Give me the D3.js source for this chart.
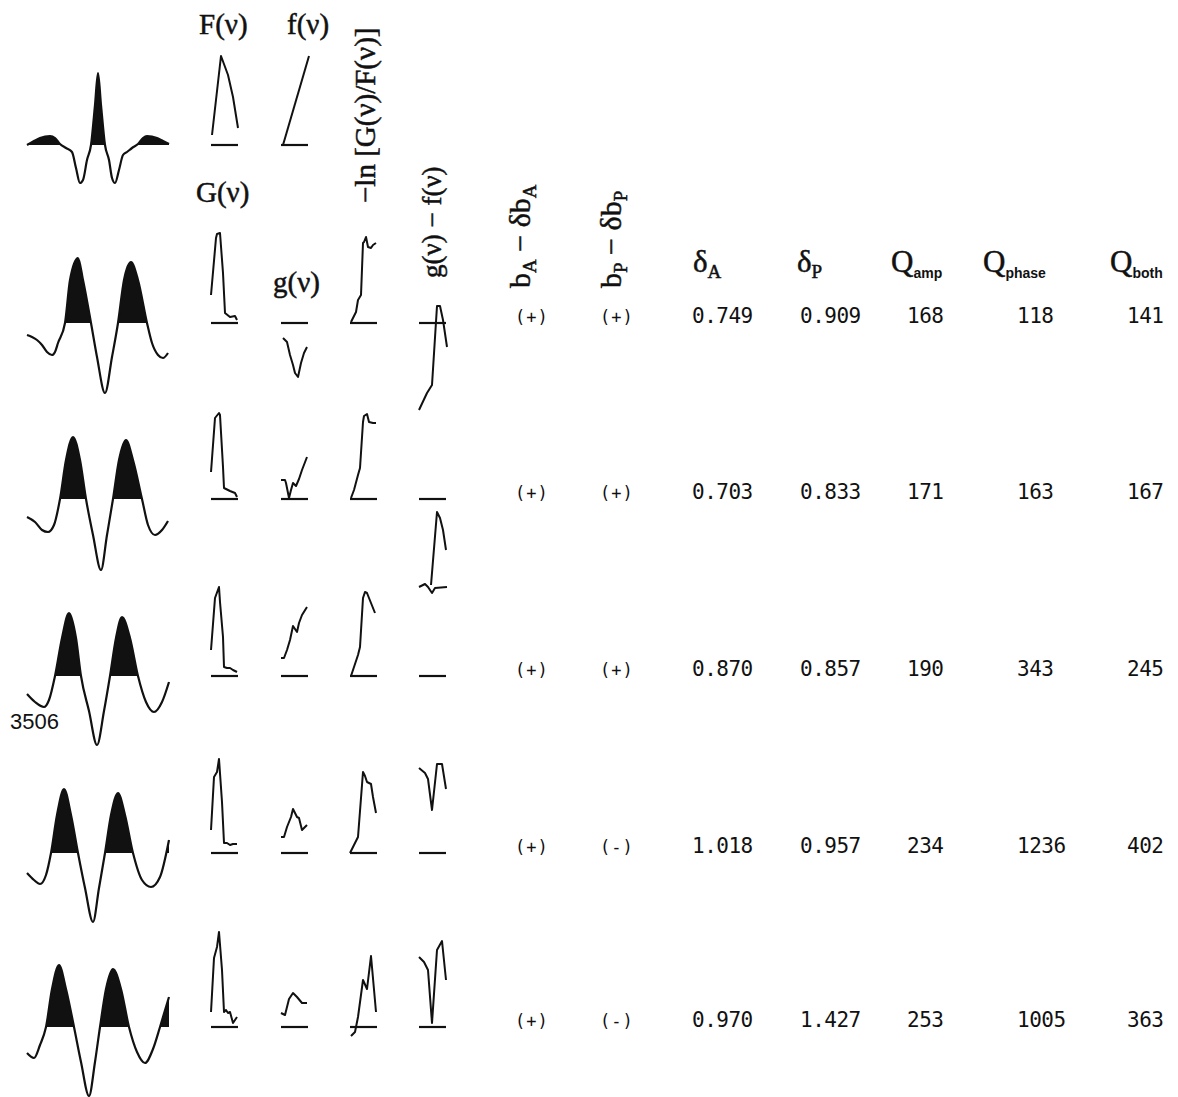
<!DOCTYPE html>
<html>
<head>
<meta charset="utf-8">
<script src="https://cdn.jsdelivr.net/npm/d3@7"></script>
<style>
  body { margin: 0; background: #fff; }
  svg { display: block; }
  .serif { font-family: "Liberation Serif", "DejaVu Serif", serif; stroke: #111; stroke-width: 0.5; }
  .mono { font-family: "DejaVu Sans Mono", "Liberation Mono", monospace; font-feature-settings: "zero"; }
</style>
</head>
<body>
<svg id="fig" width="1178" height="1097"></svg>
<script>
// wavelets: [time ms, amplitude], row 0 is the source wavelet, rows 1-5 are the traces
const wavelet0 = [[0,0],[7,4],[13,7],[23,9],[28,7],[33,1],[39,-3],[45,-7],[49,-23],[53,-38],[56,-35],[60,-15],[64,0],[68,40],[71,72],[74,40],[78,0],[82,-15],[85,-33],[88,-38],[92,-25],[96,-10],[100,-7],[105,-3],[111,1],[116,7],[120,9],[130,7],[136,4],[142,1]];
const wavelet1 = [[0,-12],[5,-14],[10,-17],[15,-22],[20,-29],[25,-32],[28,-29],[31,-20],[38,0],[43,43],[51,65],[56,43],[64,0],[70,-34],[78,-70],[85,-34],[91,0],[97,43],[104,61],[111,43],[120,0],[125,-20],[131,-32],[136,-35],[141,-30]];
const wavelet2 = [[0,-18],[8,-23],[15,-31],[21,-33],[27,-26],[33,0],[39,39],[46,62],[53,39],[59,0],[66,-36],[74,-71],[80,-36],[86,0],[92,39],[99,59],[106,39],[115,0],[121,-26],[128,-36],[135,-31],[141,-22]];
const wavelet3 = [[0,-18],[8,-26],[17,-31],[22,-24],[28,0],[35,38],[42,63],[49,38],[54,0],[62,-35],[70,-69],[77,-35],[83,0],[89,38],[95,59],[103,38],[111,0],[119,-26],[127,-36],[135,-26],[142,-6]];
const wavelet4 = [[0,-20],[7,-27],[13,-31],[19,-22],[24,0],[30,38],[37,64],[44,38],[51,0],[58,-35],[66,-69],[72,-35],[78,0],[84,38],[91,60],[98,38],[106,0],[115,-27],[124,-34],[133,-24],[142,13]];
const wavelet5 = [[0,-26],[7,-31],[13,-18],[19,0],[25,38],[32,62],[39,38],[47,0],[54,-35],[62,-69],[68,-35],[73,0],[79,38],[86,58],[94,38],[102,0],[110,-25],[118,-36],[126,-22],[133,0],[142,30]];
const wavelets = [wavelet0, wavelet1, wavelet2, wavelet3, wavelet4, wavelet5];

// spectra: [frequency Hz, value]; F(v) then G(v) per trace
const ampSpectra = [
  [[2,10],[20,89],[34,70],[44,48],[54,17]],
  [[0,28],[10,85],[12,89],[18,90],[24,50],[28,10],[38,6],[48,7],[52,3]],
  [[0,27],[8,81],[16,86],[18,84],[24,32],[26,11],[38,8],[48,6],[52,2]],
  [[0,26],[8,78],[16,89],[18,74],[24,39],[26,9],[32,8],[38,8],[44,6],[52,4]],
  [[0,23],[6,76],[12,81],[16,94],[22,51],[26,10],[32,10],[38,8],[44,9],[52,9]],
  [[0,15],[6,69],[12,80],[16,95],[22,57],[26,15],[30,17],[34,14],[38,15],[44,4],[52,10]]
];
// f(v) then g(v) per trace
const phaseSpectra = [
  [[4,0],[56,89]],
  [[4,-15],[12,-19],[18,-32],[24,-42],[28,-50],[34,-54],[40,-40],[46,-30],[52,-24]],
  [[0,19],[8,19],[10,16],[16,1],[20,9],[24,16],[30,13],[36,20],[42,29],[52,42]],
  [[0,18],[6,18],[12,26],[18,36],[24,50],[32,44],[36,53],[42,61],[52,69]],
  [[0,16],[6,16],[12,26],[20,36],[24,44],[32,36],[36,35],[42,23],[48,26],[52,28]],
  [[0,14],[8,12],[12,20],[16,28],[24,34],[32,30],[42,24],[52,24]]
];
// -ln[G(v)/F(v)]
const lnRatio = [
  null,
  [[2,1],[12,11],[16,23],[22,28],[26,80],[28,81],[32,86],[36,76],[42,75],[46,78],[52,80]],
  [[2,1],[8,9],[16,24],[20,31],[26,77],[28,83],[34,85],[38,77],[46,76],[52,76]],
  [[2,0],[8,9],[16,21],[20,29],[26,78],[30,84],[34,83],[42,73],[50,63]],
  [[0,0],[8,8],[16,16],[26,81],[30,77],[34,71],[42,69],[46,56],[52,40]],
  [[2,-9],[10,-5],[16,10],[26,47],[34,38],[42,71],[52,15]]
];
// g(v) - f(v), may hold several pieces per trace
const phaseDiff = [
  null,
  [[[0,-87],[16,-70],[26,-62],[36,17],[42,17],[48,3],[56,-24]]],
  [[[24,-86],[36,-13],[42,-19],[48,-31],[54,-51]],
   [[0,-88],[12,-85],[18,-88],[26,-94],[32,-89],[56,-88]]],
  [],
  [[[0,85],[12,80],[18,74],[26,43],[36,89],[46,89],[54,64]]],
  [[[0,70],[10,65],[18,57],[26,4],[36,77],[46,86],[54,47]]]
];

const signA = ["(+)", "(+)", "(+)", "(+)", "(+)"];
const signP = ["(+)", "(+)", "(+)", "(-)", "(-)"];
const deltaA = [0.749, 0.703, 0.870, 1.018, 0.970];
const deltaP = [0.909, 0.833, 0.857, 0.957, 1.427];
const qAmp = [168, 171, 190, 234, 253];
const qPhase = [118, 163, 343, 1236, 1005];
const qBoth = [141, 167, 245, 402, 363];

// layout
const rowBase = [145, 323, 499, 676, 853, 1027];
const panelLeft = [211, 281, 350, 419];
const panelW = 27;
const svg = d3.select('#fig');
const ink = '#111';

const fx = (left) => d3.scaleLinear().domain([0, 54]).range([left, left + panelW]);
const fy = (base) => d3.scaleLinear().domain([0, 100]).range([base, base - 100]);

// wavelets
const tx = d3.scaleLinear().domain([0, 142]).range([27, 169]);
wavelets.forEach((w, i) => {
  const y = fy(rowBase[i]);
  const id = 'clip' + i;
  svg.append('clipPath').attr('id', id)
    .append('rect').attr('x', 0).attr('y', rowBase[i] - 120).attr('width', 200).attr('height', 120);
  const area = d3.area().curve(d3.curveMonotoneX)
    .x(d => tx(d[0])).y0(y(0)).y1(d => y(d[1]));
  svg.append('path').datum(w).attr('d', area).attr('fill', ink).attr('clip-path', `url(#${id})`);
  const line = d3.line().curve(d3.curveMonotoneX).x(d => tx(d[0])).y(d => y(d[1]));
  svg.append('path').datum(w).attr('d', line)
    .attr('fill', 'none').attr('stroke', ink).attr('stroke-width', 2.2);
});

// small spectra panels
function panel(col, row, pieces) {
  const x = fx(panelLeft[col]);
  const y = fy(rowBase[row]);
  const g = svg.append('g');
  g.append('line')
    .attr('x1', x(0)).attr('x2', x(54)).attr('y1', y(0)).attr('y2', y(0))
    .attr('stroke', ink).attr('stroke-width', 2.2);
  const line = d3.line().x(d => x(d[0])).y(d => y(d[1]));
  pieces.forEach(p => {
    g.append('path').datum(p).attr('d', line)
      .attr('fill', 'none').attr('stroke', ink).attr('stroke-width', 2)
      .attr('stroke-linejoin', 'round');
  });
}
rowBase.forEach((b, i) => {
  panel(0, i, [ampSpectra[i]]);
  panel(1, i, [phaseSpectra[i]]);
  if (lnRatio[i]) panel(2, i, [lnRatio[i]]);
  if (phaseDiff[i]) panel(3, i, phaseDiff[i]);
});

// headers
function label(x, y, parts, opts = {}) {
  const t = svg.append('text').attr('class', 'serif').attr('fill', ink)
    .attr('font-size', opts.size || 29);
  if (opts.rotate) t.attr('transform', `translate(${x},${y}) rotate(-90)`);
  else t.attr('x', x).attr('y', y);
  parts.forEach(p => {
    const s = t.append('tspan').text(p.t);
    if (p.sub) s.attr('font-size', p.size || 19).attr('dy', p.dy || 6)
      .attr('font-family', p.sans ? 'Liberation Sans, Arial, sans-serif' : null)
      .attr('font-weight', p.sans ? 'bold' : null)
      .attr('stroke-width', p.sans ? 0 : null);
    if (p.up) s.attr('dy', p.up);
  });
  return t;
}
label(199, 34, [{t: 'F(ν)'}]);
label(287, 34, [{t: 'f(ν)'}]);
label(196, 202, [{t: 'G(ν)'}]);
label(273, 292, [{t: 'g(ν)'}]);
label(375, 203, [{t: '−ln [G(ν)/F(ν)]'}], {rotate: true});
label(441, 278, [{t: 'g(ν) − f(ν)'}], {rotate: true, size: 27});
label(530, 288, [{t: 'b'}, {t: 'A', sub: true}, {t: ' − δb', up: -6}, {t: 'A', sub: true}], {rotate: true, size: 30});
label(621, 288, [{t: 'b'}, {t: 'P', sub: true}, {t: ' − δb', up: -6}, {t: 'P', sub: true}], {rotate: true, size: 30});
label(693, 272, [{t: 'δ'}, {t: 'A', sub: true}], {size: 31});
label(797, 272, [{t: 'δ'}, {t: 'P', sub: true}], {size: 31});
label(891, 272, [{t: 'Q'}, {t: 'amp', sub: true, sans: true, size: 14}], {size: 31});
label(983, 272, [{t: 'Q'}, {t: 'phase', sub: true, sans: true, size: 14}], {size: 31});
label(1110, 272, [{t: 'Q'}, {t: 'both', sub: true, sans: true, size: 14}], {size: 31});

// table values
const f3 = d3.format('.3f');
const columns = [
  {x: 515, vals: signA, sign: true},
  {x: 600, vals: signP, sign: true},
  {x: 692, vals: deltaA.map(f3)},
  {x: 800, vals: deltaP.map(f3)},
  {x: 907, vals: qAmp},
  {x: 1017, vals: qPhase},
  {x: 1127, vals: qBoth}
];
columns.forEach(c => {
  svg.append('g').selectAll('text').data(c.vals).join('text')
    .attr('class', 'mono')
    .attr('x', c.x)
    .attr('y', (d, i) => rowBase[i + 1])
    .attr('font-size', c.sign ? 17 : 21)
    .attr('letter-spacing', c.sign ? 1 : -0.5)
    .attr('fill', ink)
    .text(d => d);
});

// trace number
svg.append('text').attr('x', 10).attr('y', 729)
  .attr('font-family', 'Liberation Sans, Arial, sans-serif')
  .attr('font-size', 22).attr('fill', ink).text('3506');
</script>
</body>
</html>
